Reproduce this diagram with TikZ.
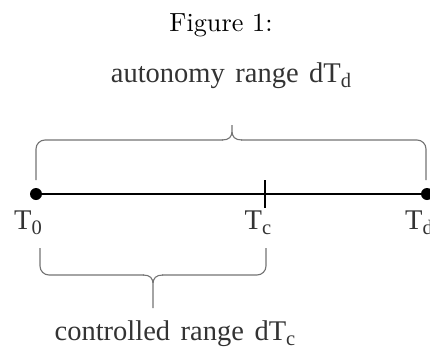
\documentclass[tikz,border=0pt]{standalone}
\usepackage{fontspec}
\newfontfamily\timesfont{Liberation Serif}
\newcommand{\mysub}[1]{\raisebox{-0.2em}{\scalebox{0.72}{#1}}}
\begin{document}
\begin{tikzpicture}[x=1pt,y=-1pt,
  lbl/.style={font=\timesfont\fontsize{28.5}{30}\selectfont, text=black!80, inner sep=0pt, anchor=base},
  bracel/.style={draw=black!55, line width=1.1pt, rounded corners=9pt},
  axis/.style={line width=2.6pt, black},
  dotst/.style={circle, fill=black, inner sep=0pt, minimum size=12pt}]
\useasboundingbox (0,0) rectangle (430,351);
\node[anchor=base, inner sep=0pt] (fig) at (221,31) {\scalebox{2.62}{Figure 1:}};
% axis
\node[dotst] (t0) at (36,194) {};
\node[dotst] (td) at (427,194) {};
\coordinate (tc) at (265,194);
\draw[axis] (t0.center) -- (td.center);
\draw[line width=2.2pt] (265,180) -- (265,208);
% labels
\node[lbl] (l0) at (28,229) {T\mysub{0}};
\node[lbl] (lc) at (258,229) {T\mysub{c}};
\node[lbl] (ld) at (419,229) {T\mysub{d}};
\node[lbl] (aut) at (231,82) {autonomy\hspace{0.12em} range\hspace{0.12em} dT\mysub{d}};
\node[lbl] (ctl) at (175,340) {controlled\hspace{0.12em} range\hspace{0.12em} dT\mysub{c}};
% top brace
\draw[bracel] (36,180) -- (36,140) -- (223,140);
\draw[bracel] (426,180) -- (426,140) -- (241,140);
\draw[draw=black!55, line width=1.1pt] (222,140) .. controls (229,140) and (232,137) .. (232,131) -- (232,125)
  (242,140) .. controls (235,140) and (232,137) .. (232,131);
% bottom brace
\draw[bracel] (40,248) -- (40,275) -- (144,275);
\draw[bracel] (266,248) -- (266,275) -- (162,275);
\draw[draw=black!55, line width=1.1pt] (143,275) .. controls (150,275) and (153,278) .. (153,284) -- (153,308)
  (163,275) .. controls (156,275) and (153,278) .. (153,284);
\end{tikzpicture}
\end{document}
